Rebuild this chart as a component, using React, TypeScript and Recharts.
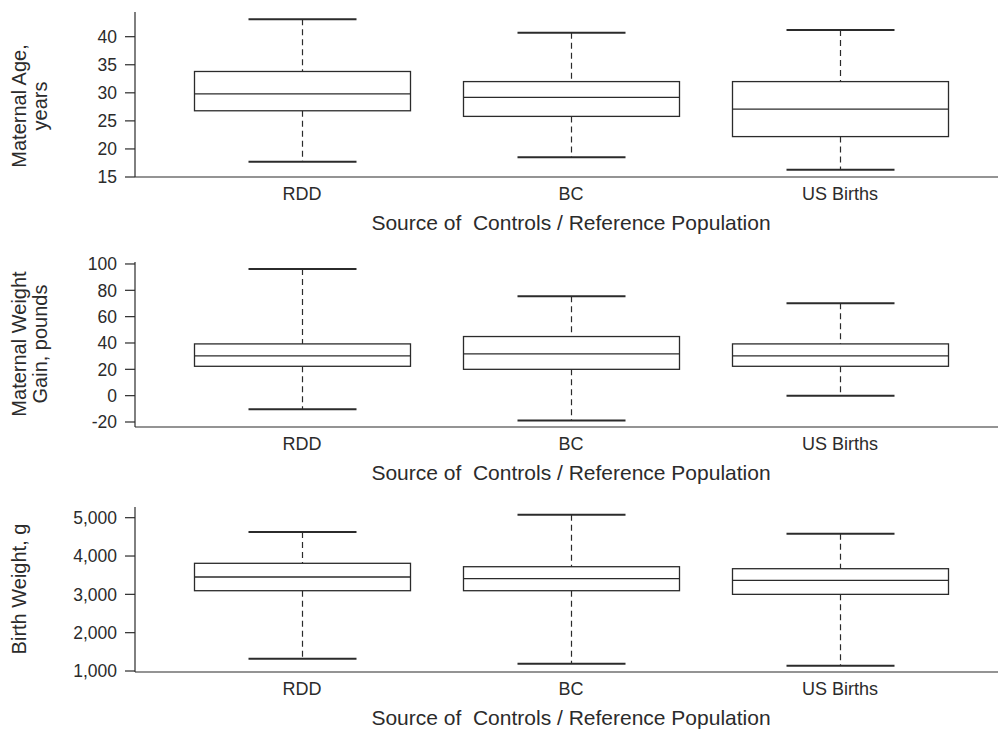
import { ComposedChart, Bar, XAxis, YAxis } from 'recharts';

// categories and the five-number summaries
const categories = ['RDD', 'BC', 'US Births'];

const ageLow = [17.7, 18.5, 16.3];
const ageQ1 = [26.8, 25.8, 22.2];
const ageMed = [29.8, 29.2, 27.1];
const ageQ3 = [33.8, 32.0, 32.0];
const ageHigh = [43.1, 40.7, 41.2];
const ageTicks = [15, 20, 25, 30, 35, 40];

const gainLow = [-10.4, -18.8, 0];
const gainQ1 = [22.3, 20.0, 22.3];
const gainMed = [30.2, 31.7, 30.2];
const gainQ3 = [39.3, 44.9, 39.3];
const gainHigh = [96.2, 75.4, 70.1];
const gainTicks = [-20, 0, 20, 40, 60, 80, 100];

const bwLow = [1321, 1190, 1138];
const bwQ1 = [3095, 3095, 3000];
const bwMed = [3452, 3408, 3366];
const bwQ3 = [3810, 3721, 3669];
const bwHigh = [4626, 5078, 4582];
const bwTicks = [1000, 2000, 3000, 4000, 5000];

const INK = '#2b2b2b';
const FONT = '"Liberation Sans", Arial, Helvetica, sans-serif';
const X_TITLE = 'Source of  Controls / Reference Population';

function rows(low: number[], q1: number[], med: number[], q3: number[], high: number[]) {
  return categories.map((name, i) => ({
    name,
    low: low[i],
    q1: q1[i],
    med: med[i],
    q3: q3[i],
    high: high[i],
    range: [low[i], high[i]],
  }));
}

// draws whiskers, box and median inside the bar that spans [low, high]
function BoxShape(props: any) {
  const { x, y, width, height, payload } = props;
  const top = Math.min(y, y + height);
  const bot = Math.max(y, y + height);
  const span = payload.high - payload.low;
  const py = (v: number) => bot - ((v - payload.low) / span) * (bot - top);
  const cx = x + width / 2;
  const cap = width / 4;
  return (
    <g>
      <line x1={cx} x2={cx} y1={py(payload.high)} y2={py(payload.q3)} stroke={INK} strokeWidth={1.2} strokeDasharray="6 4" />
      <line x1={cx} x2={cx} y1={py(payload.q1)} y2={py(payload.low)} stroke={INK} strokeWidth={1.2} strokeDasharray="6 4" />
      <line x1={cx - cap} x2={cx + cap} y1={py(payload.high)} y2={py(payload.high)} stroke={INK} strokeWidth={2} />
      <line x1={cx - cap} x2={cx + cap} y1={py(payload.low)} y2={py(payload.low)} stroke={INK} strokeWidth={2} />
      <rect x={x} y={py(payload.q3)} width={width} height={py(payload.q1) - py(payload.q3)} fill="#fff" stroke={INK} strokeWidth={1.3} />
      <line x1={x} x2={x + width} y1={py(payload.med)} y2={py(payload.med)} stroke={INK} strokeWidth={1.3} />
    </g>
  );
}

function YTitle({ viewBox, lines, cy }: any) {
  const baseX = [26, 47];
  const y = cy ?? viewBox.y + viewBox.height / 2;
  return (
    <g>
      {lines.map((t: string, i: number) => {
        const bx = lines.length === 1 ? 26 : baseX[i];
        return (
          <text key={t} x={bx} y={y} transform={`rotate(-90 ${bx} ${y})`} textAnchor="middle" fontSize={20} fontFamily={FONT} fill={INK}>
            {t}
          </text>
        );
      })}
    </g>
  );
}

function XTitle({ viewBox }: any) {
  return (
    <text
      x={viewBox.x + viewBox.width / 2 + 4.5}
      y={viewBox.y + 53}
      textAnchor="middle"
      fontSize={21}
      fontFamily={FONT}
      fill={INK}
      xmlSpace="preserve"
      style={{ whiteSpace: 'pre' }}
    >
      {X_TITLE}
    </text>
  );
}

function Panel(props: any) {
  const { data, domain, ticks, top, height, marginTop, xHeight, lines, titleY, fmt } = props;
  return (
    <div style={{ position: 'absolute', left: 0, top }}>
      <ComposedChart width={998} height={height} data={data} margin={{ top: marginTop, right: 0, bottom: 0, left: 0 }}>
        <XAxis
          dataKey="name"
          type="category"
          padding={{ left: 32.5, right: 23.5 }}
          tickLine={false}
          tickSize={0}
          tickMargin={10}
          height={xHeight}
          axisLine={{ stroke: INK, strokeWidth: 1.2 }}
          tick={{ fontSize: 18, fontFamily: FONT, fill: INK }}
          label={<XTitle />}
        />
        <YAxis
          type="number"
          domain={domain}
          ticks={ticks}
          allowDataOverflow
          width={135}
          tickSize={10}
          tickMargin={8}
          tickFormatter={fmt}
          axisLine={{ stroke: INK, strokeWidth: 1.2 }}
          tickLine={{ stroke: INK, strokeWidth: 1.2 }}
          tick={{ fontSize: 17.5, fontFamily: FONT, fill: INK }}
          label={<YTitle lines={lines} cy={titleY} />}
        />
        <Bar dataKey="range" barSize={216} shape={<BoxShape />} isAnimationActive={false} />
      </ComposedChart>
    </div>
  );
}

export default function App() {
  return (
    <div style={{ position: 'absolute', left: 0, top: 0, width: 998, height: 730, background: '#fff' }}>
      <Panel
        data={rows(ageLow, ageQ1, ageMed, ageQ3, ageHigh)}
        domain={[15, 44.4]}
        ticks={ageTicks}
        top={0}
        height={240}
        marginTop={12}
        xHeight={63}
        lines={['Maternal Age,', 'years']}
        titleY={106}
      />
      <Panel
        data={rows(gainLow, gainQ1, gainMed, gainQ3, gainHigh)}
        domain={[-23.8, 101.5]}
        ticks={gainTicks}
        top={245}
        height={245}
        marginTop={17}
        xHeight={63}
        lines={['Maternal Weight', 'Gain, pounds']}
        titleY={99}
      />
      <Panel
        data={rows(bwLow, bwQ1, bwMed, bwQ3, bwHigh)}
        domain={[974, 5279]}
        ticks={bwTicks}
        top={490}
        height={240}
        marginTop={17}
        xHeight={58}
        lines={['Birth Weight, g']}
        titleY={99}
        fmt={(v: number) => v.toLocaleString('en-US')}
      />
    </div>
  );
}
